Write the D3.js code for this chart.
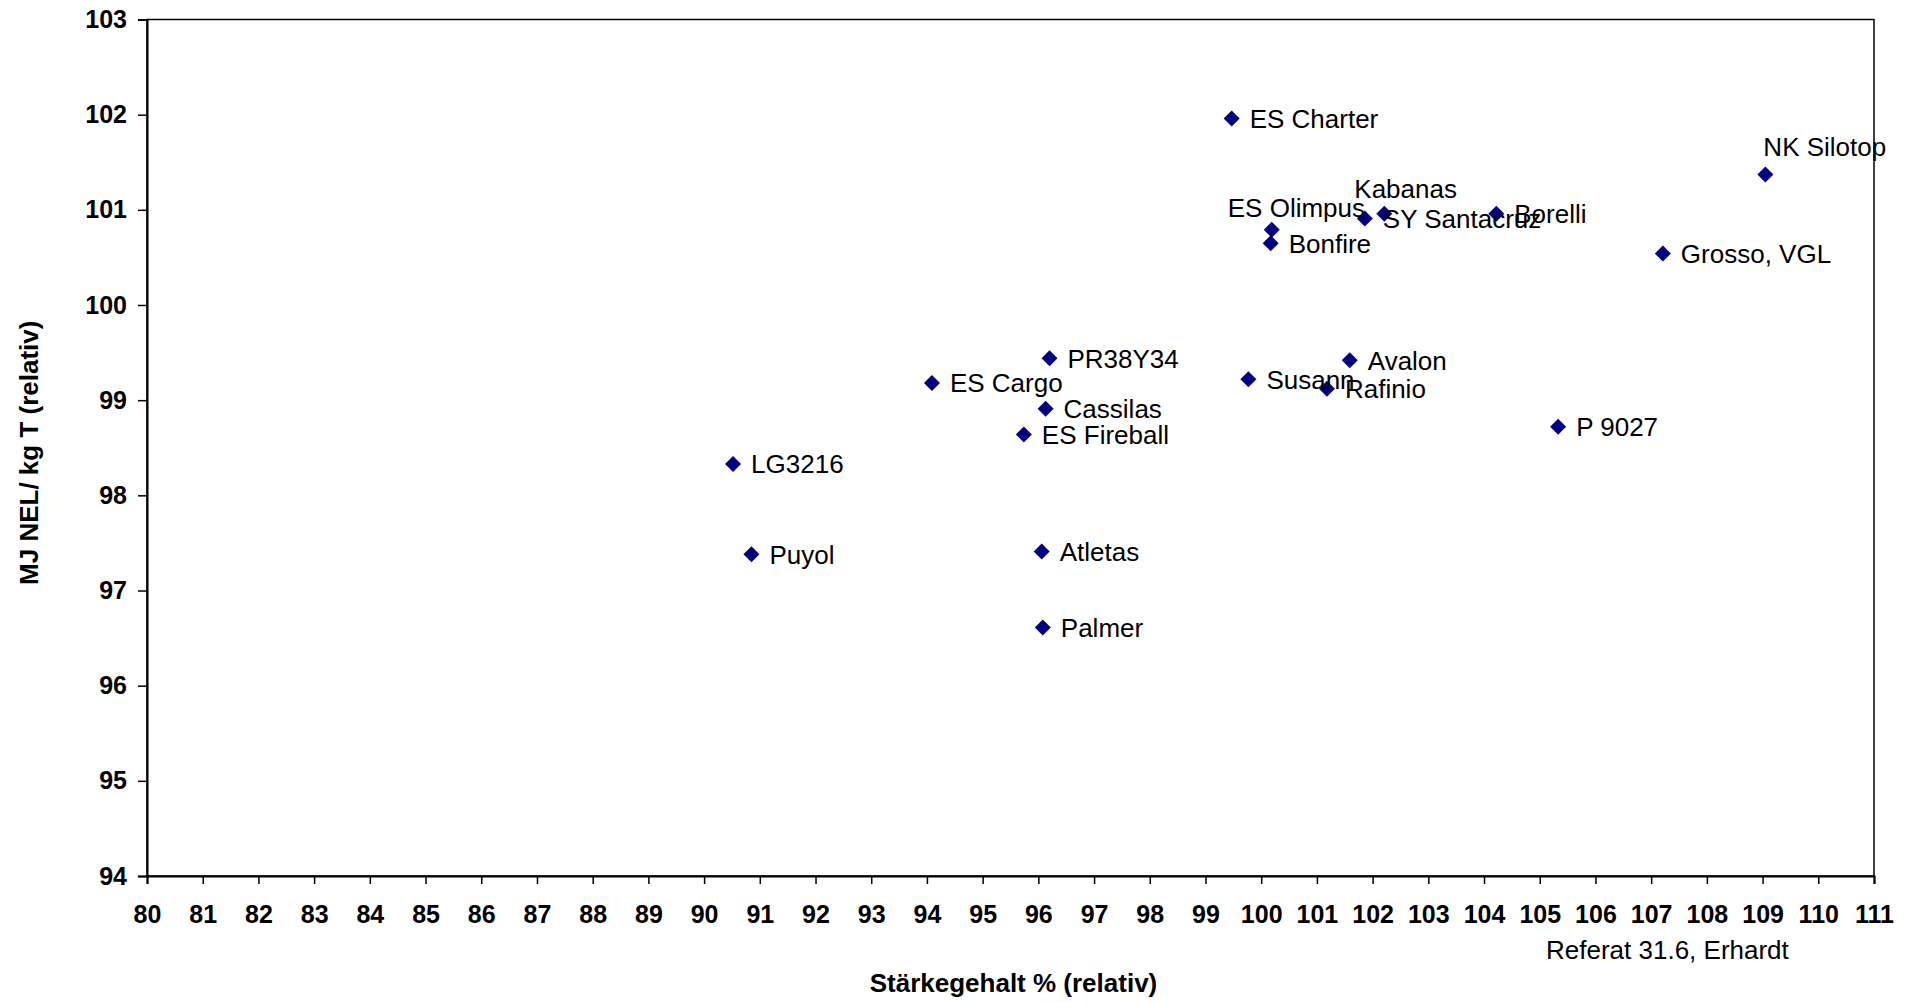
<!DOCTYPE html>
<html>
<head>
<meta charset="utf-8">
<script src="https://cdn.jsdelivr.net/npm/d3@7"></script>
<style>
  html, body { margin: 0; padding: 0; background: #fff; }
  svg { display: block; }
  text { font-family: "Liberation Sans", Arial, sans-serif; fill: #000; }
</style>
</head>
<body>
<svg id="chart" width="1913" height="1003"></svg>
<script>
// ---- Data ----
const varieties = ["ES Charter", "NK Silotop", "Kabanas", "SY Santacruz", "Borelli", "ES Olimpus", "Bonfire",
  "Grosso, VGL", "PR38Y34", "ES Cargo", "Susann", "Avalon", "Rafinio", "Cassilas", "ES Fireball",
  "P 9027", "LG3216", "Puyol", "Atletas", "Palmer"];
const starch = [99.47, 109.05, 102.21, 101.86, 104.22, 100.19, 100.17,
  107.21, 96.20, 94.09, 99.77, 101.59, 101.18, 96.13, 95.74,
  105.33, 90.52, 90.85, 96.06, 96.08];
const energy = [101.96, 101.37, 100.96, 100.91, 100.96, 100.79, 100.65,
  100.54, 99.44, 99.18, 99.22, 99.42, 99.12, 98.91, 98.64,
  98.72, 98.33, 97.38, 97.41, 96.61];
const xTicks = d3.range(80, 112, 1);
const yTicks = d3.range(94, 104, 1);
const xTitle = "Stärkegehalt % (relativ)";
const yTitle = "MJ NEL/ kg T (relativ)";
const sourceNote = "Referat 31.6, Erhardt";

// label placement tweaks (style only, keyed by name)
const labelShift = {
  "ES Olimpus": [-44, -22],
  "Kabanas": [-30, -25],
  "NK Silotop": [-2, -28]
};

// ---- Layout ----
const svg = d3.select("#chart");
const mLeft = 147, mRight = 1874, mTop = 19.5, mBottom = 876;
const x = d3.scaleLinear().domain([80, 111]).range([mLeft, mRight]);
const y = d3.scaleLinear().domain([94, 103]).range([mBottom, mTop]);

// plot frame
svg.append("rect")
  .attr("x", mLeft).attr("y", mTop)
  .attr("width", mRight - mLeft).attr("height", mBottom - mTop)
  .attr("fill", "none").attr("stroke", "#000").attr("stroke-width", 1.5);

// axes
const xAxis = svg.append("g")
  .attr("transform", `translate(0,${mBottom})`)
  .call(d3.axisBottom(x).tickValues(xTicks).tickSize(8).tickPadding(21).tickFormat(d3.format("d")));
const yAxis = svg.append("g")
  .attr("transform", `translate(${mLeft},0)`)
  .call(d3.axisLeft(y).tickValues(yTicks).tickSize(9).tickPadding(11).tickFormat(d3.format("d")));

[xAxis, yAxis].forEach(g => {
  g.select(".domain").attr("stroke", "#000").attr("stroke-width", 2);
  g.selectAll(".tick line").attr("stroke", "#000").attr("stroke-width", 1.5);
  g.selectAll(".tick text")
    .style("font-family", '"Liberation Sans", Arial, sans-serif')
    .style("font-size", "25px").style("font-weight", "bold").attr("fill", "#000");
});

// points
const pts = varieties.map((name, i) => ({ name, sx: starch[i], ey: energy[i] }));
const diamond = "M0,-8L8,0L0,8L-8,0Z";

svg.append("g").selectAll("path")
  .data(pts).join("path")
  .attr("d", diamond)
  .attr("transform", d => `translate(${x(d.sx)},${y(d.ey)})`)
  .attr("fill", "#000080");

svg.append("g").selectAll("text")
  .data(pts).join("text")
  .attr("x", d => x(d.sx) + (labelShift[d.name] ? labelShift[d.name][0] : 18))
  .attr("y", d => y(d.ey) + (labelShift[d.name] ? labelShift[d.name][1] : 0))
  .attr("dy", "0.36em")
  .style("font-size", "26px")
  .text(d => d.name);

// axis titles
svg.append("text")
  .attr("x", (mLeft + mRight) / 2 + 3).attr("y", 992)
  .attr("text-anchor", "middle")
  .style("font-size", "26px").style("font-weight", "bold")
  .text(xTitle);

svg.append("text")
  .attr("transform", `translate(38,${(mTop + mBottom) / 2 + 5}) rotate(-90)`)
  .attr("text-anchor", "middle")
  .style("font-size", "26px").style("font-weight", "bold")
  .text(yTitle);

// source note
svg.append("text")
  .attr("x", 1546).attr("y", 950).attr("dy", "0.36em")
  .style("font-size", "26px")
  .text(sourceNote);
</script>
</body>
</html>
